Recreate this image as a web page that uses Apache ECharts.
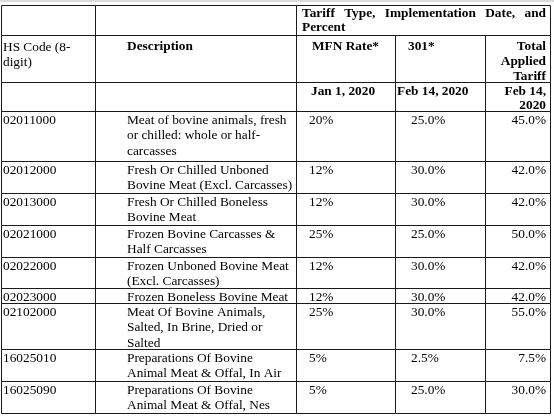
<!DOCTYPE html>
<html><head><meta charset="utf-8">
<script src="https://cdn.jsdelivr.net/npm/echarts@6/dist/echarts.min.js"></script>
<style>html,body{margin:0;padding:0;background:#fff}#c{width:554px;height:417px}</style>
</head><body><div id="c"></div>
<script>
const hsCodes = ['02011000','02012000','02013000','02021000','02022000','02023000','02102000','16025010','16025090'];
const descriptions = [
  ['Meat of bovine animals, fresh','or chilled: whole or half-','carcasses'],
  ['Fresh Or Chilled Unboned','Bovine Meat (Excl. Carcasses)'],
  ['Fresh Or Chilled Boneless','Bovine Meat'],
  ['Frozen Bovine Carcasses &','Half Carcasses'],
  ['Frozen Unboned Bovine Meat','(Excl. Carcasses)'],
  ['Frozen Boneless Bovine Meat'],
  ['Meat Of Bovine Animals,','Salted, In Brine, Dried or','Salted'],
  ['Preparations Of Bovine','Animal Meat & Offal, In Air'],
  ['Preparations Of Bovine','Animal Meat & Offal, Nes']
];
const mfnRates   = [20, 12, 12, 25, 12, 12, 25, 5, 5];
const rates301   = [25, 30, 30, 25, 30, 30, 30, 2.5, 25];
const totalRates = [45, 42, 42, 50, 42, 42, 55, 7.5, 30];
const titleWords = ['Tariff','Type,','Implementation','Date,','and'];
const titleLine2 = 'Percent';
const colHeaders = [['HS Code (8-','digit)'], ['Description'], ['MFN Rate*'], ['301*'], ['Total','Applied','Tariff']];
const dateHeaders = [[], [], ['Jan 1, 2020'], ['Feb 14, 2020'], ['Feb 14,','2020']];

// ---------- layout ----------
const colEdges = [1.5, 95.5, 296.5, 395.5, 485.5, 550.5];
const rowEdges = [5.5, 35.5, 82.5, 111.5, 161.5, 193.5, 225.5, 257.5, 288.5, 303.5, 349.5, 381.5, 413.5];
const rowText = [{dy:1.5,lh:14},{dy:4,lh:15},{dy:2.5,lh:14}]; // header rows; data rows below
const dataText = {dy:1, lh:15.5};
const FONT_FAMILY = '"Liberation Serif","Times New Roman",serif';
const FS = 13.33;
const dataPos   = [{a:'left',x:3},{a:'left',x:127},{a:'left',x:309},{a:'left',x:411},{a:'right',x:546}];
const headPos   = [{a:'left',x:3,b:false},{a:'left',x:127,b:true},{a:'left',x:312,b:true},{a:'left',x:408,b:true},{a:'right',x:546,b:true}];
const datePos   = [null,null,{a:'left',x:311},{a:'left',x:397},{a:'right',x:546}];
const titleLeft = 302, titleRight = 546;

const cells = [];
cells.push({c0:0,c1:1,r:0,lines:[]});
cells.push({c0:1,c1:2,r:0,lines:[]});
cells.push({c0:2,c1:5,r:0,title:true});
colHeaders.forEach((h,i)=>cells.push({c0:i,c1:i+1,r:1,lines:h,a:headPos[i].a,x:headPos[i].x,bold:headPos[i].b}));
dateHeaders.forEach((h,i)=>cells.push({c0:i,c1:i+1,r:2,lines:h,a:datePos[i]?datePos[i].a:'left',x:datePos[i]?datePos[i].x:0,bold:true}));
hsCodes.forEach((code,k)=>{
  const r = 3 + k;
  const vals = [[code], descriptions[k], [mfnRates[k] + '%'], [rates301[k].toFixed(1) + '%'], [totalRates[k].toFixed(1) + '%']];
  vals.forEach((v,i)=>cells.push({c0:i,c1:i+1,r:r,lines:v,a:dataPos[i].a,x:dataPos[i].x,bold:false}));
});

const measureCtx = document.createElement('canvas').getContext('2d');
function textWidth(t, bold){
  measureCtx.font = (bold?'bold ':'') + FS + 'px ' + FONT_FAMILY;
  return measureCtx.measureText(t).width;
}

function txt(text, x, y, align, bold, lh){
  return {type:'text', style:{text:text, x:x, y:y, fill:'#000', fontSize:FS, fontFamily:FONT_FAMILY,
    fontWeight:bold?'bold':'normal', align:align, verticalAlign:'top', lineHeight:lh}};
}

function renderItem(params, api){
  const cell = cells[api.value(0)];
  const p0 = api.coord([colEdges[cell.c0], rowEdges[cell.r]]);
  const p1 = api.coord([colEdges[cell.c1], rowEdges[cell.r + 1]]);
  const children = [{type:'rect', shape:{x:p0[0], y:p0[1], width:p1[0]-p0[0], height:p1[1]-p0[1]},
    style:{fill:'none', stroke:'#1a1a1a', lineWidth:1}}];
  const tcfg = cell.r < 3 ? rowText[cell.r] : dataText;
  const ty = p0[1] + tcfg.dy;
  if (cell.title){
    const ws = titleWords.map(w=>textWidth(w,true));
    const total = ws.reduce((s,w)=>s+w,0);
    const xl = api.coord([titleLeft,0])[0], xr = api.coord([titleRight,0])[0];
    const gap = (xr - xl - total) / (titleWords.length - 1);
    let x = xl;
    titleWords.forEach((w,i)=>{ children.push(txt(w, x, ty, 'left', true, tcfg.lh)); x += ws[i] + gap; });
    children.push(txt(titleLine2, xl, ty + tcfg.lh, 'left', true, tcfg.lh));
  } else if (cell.lines.length){
    const tx = api.coord([cell.x, 0])[0];
    children.push(txt(cell.lines.join('\n'), tx, ty, cell.a, cell.bold, tcfg.lh));
  }
  return {type:'group', children:children};
}

const chart = echarts.init(document.getElementById('c'), null, {renderer:'canvas'});
chart.setOption({
  animation:false,
  backgroundColor:'#fff',
  graphic:[{type:'rect', left:0, top:0, shape:{width:554, height:2}, style:{fill:'#d9d9d9'}, silent:true}],
  grid:{left:0, top:0, width:554, height:417, containLabel:false},
  xAxis:{type:'value', min:0, max:554, show:false},
  yAxis:{type:'value', min:0, max:417, inverse:true, show:false},
  series:[{type:'custom', silent:true, renderItem:renderItem, clip:false,
    encode:{x:-1, y:-1},
    data:cells.map((c,i)=>[i])}]
});
</script>
</body></html>
